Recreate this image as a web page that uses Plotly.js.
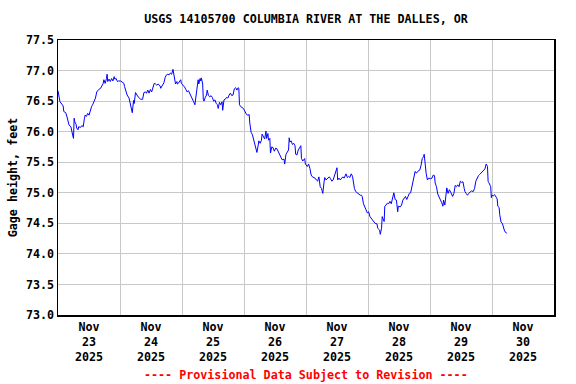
<!DOCTYPE html>
<html>
<head>
<meta charset="utf-8">
<script src="https://cdn.plot.ly/plotly-3.0.1.min.js"></script>
<style>html,body{margin:0;padding:0;background:#fff;}#chart{width:576px;height:384px;}</style>
</head>
<body>
<div id="chart"></div>
<script>
// Gage height readings (feet), per day: clock times and values
const t23 = ['00:00','00:30','00:45','01:30','02:00','02:15','03:00','03:30','03:45','04:15','05:00','05:15','05:45','06:00','06:15','06:30','07:00','07:15','07:45','08:00','08:45','09:15','09:45','10:15','10:30','11:00','11:30','12:00','12:30','13:00','13:30','14:00','14:30','15:00','15:45','16:30','17:00','17:30','17:45','18:15','18:45','19:00','19:15','19:45','20:15','20:45','21:15','21:45','22:00','22:30','23:00','23:30'];
const h23 = [76.67,76.50,76.49,76.45,76.42,76.33,76.31,76.24,76.19,76.11,76.08,76.00,75.93,75.89,76.22,76.16,76.12,76.06,76.03,76.08,76.07,76.10,76.08,76.22,76.27,76.25,76.30,76.27,76.35,76.41,76.45,76.49,76.55,76.65,76.69,76.71,76.74,76.79,76.85,76.79,76.87,76.94,76.82,76.86,76.82,76.87,76.83,76.90,76.86,76.87,76.82,76.83];

const t24 = ['00:15','01:00','01:30','01:45','02:15','02:45','03:30','04:00','04:30','04:45','05:15','05:30','06:00','06:30','07:00','08:00','08:45','09:15','09:45','10:15','10:45','11:15','11:45','12:15','12:45','13:15','13:45','14:15','14:45','15:30','15:45','16:30','17:00','17:30','18:00','18:30','19:00','19:30','20:00','20:30','21:00','21:30','22:00','22:15','22:45','23:30','23:45'];
const h24 = [76.83,76.81,76.79,76.74,76.65,76.60,76.55,76.47,76.35,76.31,76.51,76.46,76.64,76.60,76.57,76.53,76.53,76.64,76.65,76.63,76.68,76.63,76.69,76.65,76.74,76.79,76.78,76.76,76.78,76.75,76.71,76.76,76.80,76.89,76.93,76.94,76.93,76.96,76.94,77.02,76.91,76.78,76.82,76.78,76.80,76.85,76.79];

const t25 = ['00:30','01:00','01:30','02:00','02:30','03:00','03:30','04:00','04:30','05:00','05:30','05:45','06:15','06:30','07:00','07:15','07:30','08:00','08:15','08:30','09:00','09:30','09:45','10:15','10:45','11:15','11:45','12:15','12:45','13:15','13:45','14:00','14:30','15:00','15:30','15:45','16:15','16:45','17:15','17:45','18:15','18:45','19:15','19:45','20:15','20:45','21:15','21:45','22:00','22:15','22:45','23:30','23:45'];
const h25 = [76.76,76.73,76.69,76.65,76.67,76.63,76.58,76.55,76.49,76.44,76.56,76.69,76.85,76.78,76.87,76.83,76.88,76.78,76.53,76.50,76.56,76.60,76.68,76.59,76.57,76.59,76.56,76.50,76.52,76.46,76.44,76.38,76.48,76.44,76.49,76.35,76.52,76.53,76.56,76.55,76.60,76.63,76.59,76.60,76.70,76.72,76.68,76.72,76.71,76.44,76.41,76.38,76.38];

const t26 = ['00:15','01:00','01:30','02:00','02:15','02:45','03:15','03:45','04:15','04:30','05:00','05:30','05:45','06:15','06:45','07:00','07:30','08:00','08:30','08:45','09:15','09:30','10:00','10:15','10:45','11:15','11:45','12:15','12:45','13:15','13:45','14:15','14:45','15:30','15:45','16:15','16:45','17:15','17:30','17:45','18:15','18:45','19:15','19:45','20:00','20:30','21:00','21:30','22:00','22:15','22:45','23:30','23:45'];
const h26 = [76.34,76.28,76.27,76.28,76.14,75.99,75.95,75.86,75.77,75.73,75.66,75.78,75.85,75.81,75.86,75.96,75.92,75.88,76.01,75.89,75.97,75.86,75.89,75.65,75.75,75.74,75.68,75.73,75.72,75.67,75.62,75.56,75.54,75.55,75.47,75.63,75.68,75.70,75.90,75.83,75.85,75.79,75.81,75.77,75.63,75.62,75.70,75.74,75.77,75.56,75.52,75.56,75.47];

const t27 = ['00:30','01:00','01:30','02:00','02:30','03:00','03:30','04:00','04:30','05:00','05:30','06:00','06:30','07:00','07:15','07:45','08:30','09:00','09:30','10:00','10:30','11:00','11:30','12:00','12:15','12:45','13:15','13:45','14:15','14:45','15:30','16:00','16:30','17:00','17:30','18:00','18:30','18:45','19:15','20:00','20:30','21:00','21:30','21:45','22:15','22:45','23:15','23:45'];
const h27 = [75.43,75.47,75.40,75.29,75.26,75.25,75.24,75.21,75.19,75.26,75.10,75.07,74.99,75.18,75.25,75.21,75.25,75.26,75.23,75.19,75.21,75.29,75.37,75.41,75.21,75.24,75.21,75.23,75.26,75.24,75.31,75.25,75.27,75.25,75.31,75.27,75.10,75.07,75.02,74.99,74.98,74.96,74.96,74.94,74.82,74.78,74.72,74.67];

const t28 = ['00:15','00:45','01:15','01:45','02:15','02:45','03:30','03:45','04:30','04:45','05:15','05:30','05:45','06:15','06:30','07:00','07:30','08:00','08:30','09:00','09:30','10:00','10:30','11:00','11:30','11:45','12:30','13:00','13:30','14:00','14:30','15:00','15:30','16:00','16:30','17:00','17:30','17:45','18:15','18:45','19:15','20:00','20:30','21:00','21:30','21:45','22:15','22:30','23:00','23:30'];
const h28 = [74.69,74.61,74.58,74.57,74.53,74.50,74.49,74.42,74.39,74.32,74.42,74.61,74.58,74.53,74.78,74.80,74.83,74.82,74.86,74.82,74.93,75.00,74.89,74.88,74.69,74.78,74.77,74.80,74.88,74.91,74.94,74.89,74.94,74.99,75.00,75.09,75.21,75.24,75.35,75.32,75.35,75.37,75.44,75.56,75.59,75.63,75.37,75.32,75.21,75.24];

const t29 = ['00:15','00:45','01:15','01:45','02:00','02:30','03:00','03:30','04:00','04:30','05:00','05:15','05:45','06:15','06:30','07:00','07:30','08:00','08:45','09:15','09:45','10:15','10:45','11:15','11:45','12:15','12:45','13:15','13:30','14:00','14:30','15:00','15:45','16:00','16:45','17:15','17:45','18:15','18:45','19:15','19:45','20:15','20:45','21:15','21:45','22:15','22:30','22:45','23:30','23:45'];
const h29 = [75.23,75.24,75.29,75.28,75.16,75.10,74.98,74.94,74.88,74.84,74.78,74.88,74.80,75.07,75.08,74.99,75.05,75.01,74.94,74.99,75.12,75.10,75.13,75.10,75.19,75.17,75.18,75.07,75.02,74.99,74.96,74.99,75.02,75.03,75.02,75.07,75.19,75.24,75.28,75.30,75.32,75.35,75.36,75.39,75.47,75.43,75.18,75.17,75.10,74.92];

const t30 = ['00:00','00:30','01:00','01:30','02:00','02:15','02:45','03:00','03:30','04:00','04:15','04:45','05:15','05:45'];
const h30 = [74.96,74.95,74.97,74.94,74.90,74.78,74.76,74.64,74.52,74.50,74.45,74.39,74.35,74.34];

const dayDates = ['2025-11-23','2025-11-24','2025-11-25','2025-11-26','2025-11-27','2025-11-28','2025-11-29','2025-11-30'];
const dayTimes = [t23,t24,t25,t26,t27,t28,t29,t30];
const dayHeights = [h23,h24,h25,h26,h27,h28,h29,h30];

const titleText = 'USGS 14105700 COLUMBIA RIVER AT THE DALLES, OR';
const yTitleText = 'Gage height, feet';
const footerText = '---- Provisional Data Subject to Revision ----';

const x = [], y = [];
dayDates.forEach((d, i) => {
  dayTimes[i].forEach((t, j) => { x.push(d + ' ' + t); y.push(dayHeights[i][j]); });
});

const FONT = 'DejaVu Sans Mono, monospace';
const W = 576, H = 384;
const plotTop = 40, plotBottom = 315;

const trace = {
  x: x, y: y, type: 'scatter', mode: 'lines',
  line: {color: '#0000ff', width: 1, shape: 'linear'},
  hoverinfo: 'x+y'
};

const layout = {
  width: W, height: H,
  margin: {l: 58, r: 22, t: plotTop, b: H - plotBottom, pad: 0},
  paper_bgcolor: '#ffffff', plot_bgcolor: '#ffffff',
  showlegend: false,
  font: {family: FONT, color: '#000000', size: 11.7, weight: 'bold'},
  title: {
    text: titleText,
    font: {family: FONT, size: 11.7, color: '#000000', weight: 'bold'},
    xref: 'paper', x: 0.5, xanchor: 'center',
    yref: 'container', y: 1 - 19 / H, yanchor: 'middle'
  },
  xaxis: {
    type: 'date',
    range: ['2025-11-23 00:00', '2025-12-01 00:00'],
    tick0: '2025-11-23', dtick: 86400000,
    ticklabelmode: 'period',
    tickformat: '%b<br>%d<br>%Y',
    ticks: '',
    showgrid: true, gridcolor: '#c8c8c8', gridwidth: 1,
    showline: true, linecolor: '#000000', linewidth: 1.5, mirror: true,
    zeroline: false,
    tickfont: {family: FONT, size: 11.7, color: '#000000', weight: 'bold'},
    fixedrange: true
  },
  yaxis: {
    range: [73, 77.5],
    tick0: 73, dtick: 0.5, tickformat: '.1f',
    ticks: '',
    showgrid: true, gridcolor: '#c8c8c8', gridwidth: 1,
    showline: true, linecolor: '#000000', linewidth: 1.5, mirror: true,
    zeroline: false,
    tickfont: {family: FONT, size: 11.7, color: '#000000', weight: 'bold'},
    title: {text: yTitleText, standoff: 6, font: {family: FONT, size: 11.7, color: '#000000', weight: 'bold'}},
    automargin: false,
    fixedrange: true
  },
  annotations: [{
    text: footerText, showarrow: false,
    xref: 'paper', x: 0.5, xanchor: 'center',
    yref: 'paper', y: -(375 - plotBottom) / (plotBottom - plotTop), yanchor: 'middle',
    font: {family: FONT, size: 11.7, color: '#ff0000', weight: 'bold'}
  }]
};

Plotly.newPlot('chart', [trace], layout, {displayModeBar: false, staticPlot: true});
</script>
</body>
</html>
